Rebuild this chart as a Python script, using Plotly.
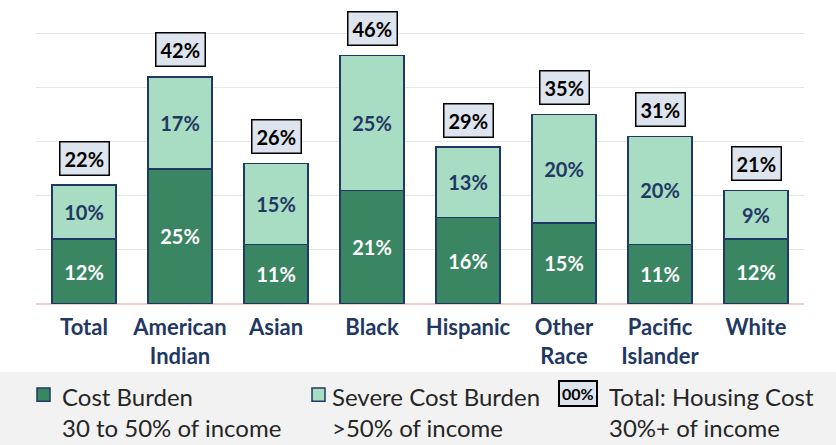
import plotly.graph_objects as go

categories = ["Total", "American<br>Indian", "Asian", "Black", "Hispanic",
              "Other<br>Race", "Pacific<br>Islander", "White"]
cost_burden = [12, 25, 11, 21, 16, 15, 11, 12]
severe_burden = [10, 17, 15, 25, 13, 20, 20, 9]
total_burden = [22, 42, 26, 46, 29, 35, 31, 21]

DARK = "#3A8562"
LIGHT = "#A8DCC3"
NAVY = "#1F3864"
BOXFILL = "#DEE4ED"
FONT = "Lato"

W, H = 836, 445
YMAX = 50.3
PX_PER = 5.4
BASE = 304
L, R = 36, 32
T = BASE - YMAX * PX_PER
B = H - BASE


def px_x(x):
    return (x - L) / (W - L - R)


def px_y(y):
    return (BASE - y) / (BASE - T)


fig = go.Figure()
fig.add_trace(go.Bar(
    x=categories, y=cost_burden, name="Cost Burden",
    marker=dict(color=DARK, line=dict(color=NAVY, width=1.5)),
    text=[f"{v}%" for v in cost_burden], textposition="inside",
    insidetextanchor="middle", textangle=0, constraintext="none",
    textfont=dict(family=FONT, size=20, color="white", weight="bold"),
))
fig.add_trace(go.Bar(
    x=categories, y=severe_burden, name="Severe Cost Burden",
    marker=dict(color=LIGHT, line=dict(color=NAVY, width=1.5)),
    text=[f"{v}%" for v in severe_burden], textposition="inside",
    insidetextanchor="middle", textangle=0, constraintext="none",
    textfont=dict(family=FONT, size=20, color=NAVY, weight="bold"),
))

# total boxes above each bar
for c, t in zip(categories, total_burden):
    fig.add_annotation(
        x=c, y=t, yshift=27, text=f"{t}%", showarrow=False,
        font=dict(family=FONT, size=20, color="black", weight="bold"),
        bgcolor=BOXFILL, bordercolor="black", borderwidth=1.5, borderpad=4,
    )

# legend band
fig.add_shape(type="rect", xref="paper", yref="paper",
              x0=px_x(0), x1=px_x(W), y0=px_y(H), y1=px_y(372),
              fillcolor="#F2F2F2", line=dict(width=0), layer="below")

swatches = [(37, DARK), (312, LIGHT)]
for x0, col in swatches:
    fig.add_shape(type="rect", xref="paper", yref="paper",
                  x0=px_x(x0), x1=px_x(x0 + 13), y0=px_y(401), y1=px_y(388),
                  fillcolor=col, line=dict(color=NAVY, width=1.5))

fig.add_annotation(
    x=px_x(578), y=px_y(393), xref="paper", yref="paper",
    xanchor="center", yanchor="middle",
    text="00%", showarrow=False,
    font=dict(family=FONT, size=16, color="black", weight="bold"),
    bgcolor=BOXFILL, bordercolor="black", borderwidth=2, borderpad=2,
)

legend_lines = [
    (60, "Cost Burden", "30 to 50% of income"),
    (330, "Severe Cost Burden", ">50% of income"),
    (607, "Total: Housing Cost", "30%+ of income"),
]
for x0, l1, l2 in legend_lines:
    for y0, txt in ((396, l1), (427, l2)):
        fig.add_annotation(
            x=px_x(x0), y=px_y(y0), xref="paper", yref="paper",
            xanchor="left", yanchor="middle", text=txt, showarrow=False,
            font=dict(family=FONT, size=24, color="#262626"),
        )

fig.update_layout(
    width=W, height=H, barmode="stack", bargap=1 / 3,
    margin=dict(l=L, r=R, t=T, b=B),
    plot_bgcolor="white", paper_bgcolor="white", showlegend=False,
    font=dict(family=FONT),
)
fig.update_xaxes(
    tickfont=dict(family=FONT, size=22, color=NAVY, weight="bold"),
    showline=False, ticks="", ticklabelstandoff=8,
)
fig.update_yaxes(
    range=[0, YMAX], dtick=10, showticklabels=False,
    gridcolor="#E4E6EE", gridwidth=1,
    zeroline=True, zerolinecolor="#F4CCCC", zerolinewidth=1.5,
)

fig.write_html("out.html", config={"displayModeBar": False},
               post_script="document.body.style.margin='0';")
